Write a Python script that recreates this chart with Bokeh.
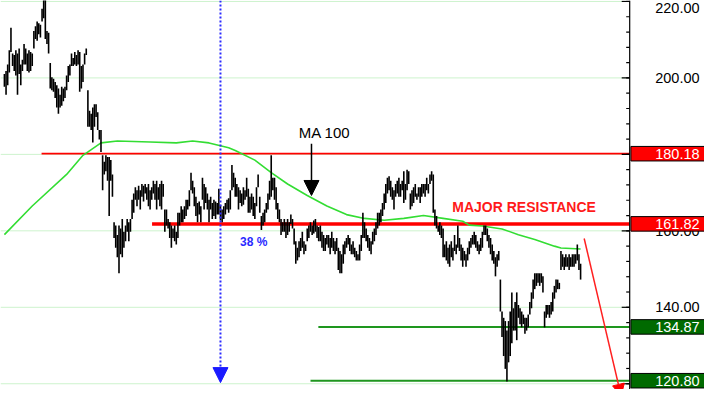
from bokeh.plotting import figure
from bokeh.models import Range1d, Label, Arrow, NormalHead
from bokeh.core.properties import value
from bokeh.embed import file_html
from bokeh.resources import INLINE

# ---- data ----
high = [
    201.0, 201.8, 203.5, 207.25, 213.1, 206.4, 206.0, 207.25, 206.4, 207.7,
    203.5, 204.75, 208.9, 207.7, 206.4, 207.25, 206.8, 206.4, 212.25, 213.5,
    214.75, 214.3, 213.9, 218.1, 220.5, 220.5, 212.25, 211.8, 203.9, 200.2,
    199.75, 198.9, 198.1, 197.25, 195.6, 197.7, 197.25, 197.7, 200.6, 203.1,
    203.5, 206.4, 205.2, 206.8, 206.0, 207.25, 206.8, 203.1, 203.5, 206.4,
    207.7, 196.8, 191.4, 190.6, 192.25, 193.1, 193.1, 191.0, 186.4, 186.4,
    179.75, 178.1, 179.75, 179.3, 179.3, 178.5, 174.75, 162.25, 161.4, 158.9,
    161.4, 160.6, 163.1, 159.75, 161.4, 163.1, 162.25, 163.1, 168.1, 169.75,
    171.4, 170.6, 171.8, 170.6, 172.25, 171.8, 172.25, 171.4, 172.25, 170.6,
    171.4, 173.1, 172.25, 173.1, 171.4, 172.25, 173.1, 172.25, 165.6, 165.6,
    163.1, 162.25, 161.4, 160.6, 161.4, 159.75, 164.75, 164.75, 166.4, 165.6,
    166.4, 168.1, 168.1, 170.6, 175.2, 173.1,
    171.4, 168.9, 167.25, 167.7, 166.4, 173.9, 172.25, 171.4, 169.75, 168.1,
    168.9, 167.25, 168.1, 167.7, 167.25, 171.0, 166.8, 165.6, 166.4, 167.25,
    168.1, 168.5, 170.6, 177.25, 175.2, 173.9, 172.25, 171.4, 170.6, 169.75,
    171.4, 170.6, 173.9, 171.0, 168.9, 169.75, 168.9, 167.25, 171.4, 174.75,
    168.9, 163.9, 164.75, 165.6, 167.25, 169.75, 173.1, 179.75, 173.9, 173.9,
    171.4, 167.25, 165.6, 163.1, 162.25, 163.1, 162.25, 163.1, 162.25, 164.3,
    163.1, 160.6, 157.25, 155.6, 157.25, 158.1, 159.75, 157.25, 156.4, 160.6,
    161.4, 162.25, 161.4, 162.7, 163.1, 161.4, 161.0, 161.4, 159.75, 158.9,
    158.1, 158.9, 158.9, 158.1, 159.75, 158.1, 157.25, 158.1, 155.6, 154.75,
    153.9, 156.4, 157.25, 158.1, 158.9, 158.1, 156.4, 157.25, 155.6, 154.75,
    153.9, 156.4, 158.9, 164.75, 162.25, 160.6, 158.9, 158.1, 157.25, 159.75,
    160.6, 162.25, 164.75, 164.75, 165.6, 167.25, 169.75, 172.25, 173.9, 174.3,
    173.1, 171.4, 170.6,
    172.25, 173.1, 173.9, 172.25, 173.1, 175.6, 172.25, 176.0, 175.6, 169.75,
    170.6, 171.4, 172.25, 169.75, 171.4, 171.4, 172.25, 172.25, 172.25, 173.9,
    172.25, 174.75, 175.6, 174.75, 165.6, 163.9, 161.4, 162.25, 161.4, 160.6,
    156.4, 157.25, 155.6, 156.4, 157.25, 155.6, 158.9, 156.4, 161.4, 158.1,
    156.4, 155.6, 154.75, 153.9, 155.6, 157.25, 158.1, 158.9, 159.75, 158.9,
    157.25, 156.4, 158.1, 159.75, 161.4, 161.4, 160.6, 158.9, 158.1, 156.4,
    154.75, 153.1, 153.9, 154.75, 147.25, 138.9, 137.25, 136.4, 133.9, 136.4,
    138.9, 143.9, 139.75, 141.4, 143.9, 140.6, 139.75, 138.9, 138.1, 137.25,
    137.25, 138.1, 141.4, 143.9, 147.25, 148.9, 148.9, 148.9, 148.9, 148.9,
    148.1, 138.9, 140.6, 140.6, 140.6, 141.4, 143.9, 145.6, 147.25, 147.25,
    146.4, 154.75, 153.9, 153.1, 153.9, 153.1, 153.9, 153.1, 153.9, 153.9,
    153.9, 156.4, 153.9, 151.4,
]
low = [
    197.7, 195.6, 198.1, 201.4, 206.8, 203.1, 201.8, 200.6, 195.6, 201.0,
    198.1, 201.8, 203.5, 203.5, 201.8, 201.4, 201.8, 203.1, 207.7, 210.2,
    209.75, 211.4, 210.6, 214.75, 215.6, 210.2, 208.9, 206.4, 197.25, 196.8,
    196.4, 194.75, 192.25, 190.6, 192.25, 192.7, 193.9, 194.75, 196.8, 198.9,
    200.6, 203.1, 203.1, 203.5, 203.1, 203.5, 196.4, 197.25, 198.9, 203.5,
    206.0, 187.25, 187.25, 186.4, 183.1, 187.25, 189.75, 186.4, 183.9, 180.6,
    170.6, 174.75, 175.6, 173.1, 163.9, 173.1, 168.9, 158.1, 155.6, 153.1,
    148.9, 153.9, 153.1, 155.6, 157.25, 159.75, 157.25, 159.75, 163.1, 164.75,
    168.1, 166.4, 168.1, 165.6, 168.9, 167.7, 169.75, 168.1, 166.4, 165.6,
    168.1, 169.75, 168.1, 165.6, 168.1, 166.4, 165.6, 168.9, 159.75, 161.4,
    160.6, 158.1, 155.6, 158.1, 157.25, 156.4, 158.1, 161.4, 162.25, 162.25,
    163.1, 163.9, 165.6, 166.4, 170.6, 169.75,
    166.4, 163.9, 162.25, 164.3, 162.25, 168.1, 165.6, 167.25, 165.6, 162.25,
    165.6, 163.1, 163.9, 163.1, 164.3, 164.3, 162.7, 162.25, 163.1, 164.3,
    165.6, 164.75, 165.6, 170.6, 171.4, 168.9, 168.9, 165.6, 167.25, 166.4,
    166.8, 168.1, 168.9, 164.75, 164.75, 165.6, 163.9, 163.1, 166.4, 171.4,
    164.75, 160.2, 161.4, 162.25, 164.75, 165.6, 168.1, 168.9, 170.6, 168.1,
    165.6, 163.1, 162.25, 158.9, 159.75, 159.75, 158.1, 158.9, 159.75, 161.8,
    160.6, 156.4, 151.4, 152.25, 153.1, 154.75, 155.6, 153.9, 154.75, 157.25,
    158.1, 159.75, 158.9, 159.3, 159.75, 158.1, 157.25, 157.25, 155.6, 154.75,
    154.75, 156.4, 155.6, 153.9, 155.6, 154.75, 153.9, 154.75, 149.75, 148.9,
    148.9, 151.4, 153.9, 155.6, 156.4, 154.75, 153.9, 153.9, 153.1, 152.25,
    152.25, 152.25, 154.75, 158.1, 158.1, 157.25, 155.6, 154.75, 153.9, 156.4,
    157.25, 158.9, 160.6, 161.4, 162.25, 163.9, 165.6, 167.25, 169.75, 170.6,
    168.9, 168.1, 165.6,
    168.9, 169.75, 168.9, 168.9, 170.6, 167.25, 168.1, 170.6, 172.25, 165.6,
    166.4, 167.25, 168.9, 168.1, 168.9, 167.25, 168.9, 169.75, 168.9, 170.6,
    169.75, 172.25, 173.1, 164.75, 161.4, 160.6, 159.75, 158.9, 158.1, 153.1,
    153.1, 152.25, 151.4, 150.6, 153.1, 152.25, 154.75, 153.9, 155.6, 154.75,
    152.25, 150.6, 152.25, 150.6, 152.25, 153.9, 155.6, 156.4, 156.4, 155.6,
    154.75, 153.9, 154.75, 155.6, 158.9, 158.9, 157.25, 155.6, 153.9, 152.25,
    151.4, 148.1, 150.6, 152.25, 138.9, 132.25, 127.25, 123.9, 120.6, 125.6,
    127.25, 130.6, 133.9, 133.9, 131.4, 137.25, 135.6, 134.75, 135.6, 133.1,
    133.9, 134.75, 138.1, 139.75, 142.25, 144.75, 145.6, 146.4, 145.6, 146.4,
    143.9, 134.75, 137.25, 138.1, 137.25, 138.1, 138.9, 142.25, 143.9, 144.75,
    144.75, 149.75, 150.6, 149.75, 150.6, 150.6, 149.75, 150.6, 150.6, 150.6,
    151.4, 152.25, 149.75, 147.25,
]
bar_idx = list(range(len(high)))

# MA 100 read at selected bars
ma_idx = [0, 17, 38, 48, 59, 69, 89, 105, 115, 125, 137, 141, 153, 163, 173, 185,
          197, 209, 220, 232, 244, 256, 268, 280, 284, 292, 304, 314, 324, 336, 340, 352]
ma_val = [159.0, 166.5, 174.75, 179.75, 183.0, 183.5, 183.25, 183.0, 183.5, 183.0,
          181.75, 181.0, 178.5, 175.25, 172.25, 169.25, 166.5, 164.25, 163.25, 162.75,
          163.25, 164.0, 163.25, 162.5, 161.5, 161.25, 160.5, 159.0, 157.75, 156.0,
          155.5, 155.25]

levels = [180.18, 161.82, 134.87, 120.80]
y_ticks = [120, 140, 160, 180, 200, 220]
y_minor_ticks = list(range(120, 221, 4))
# tick labels that are not hidden under the value boxes
label_ticks = [140, 160, 200, 220]

# ---- styles / positions ----
level_line_colors = ["#ff0000", "#ff0000", "#1e961e", "#1e961e"]
level_box_colors = ["#ff0000", "#ff0000", "#006a00", "#006a00"]
level_widths = [1.8, 3.5, 2, 2]
level_start = [22.7, 90.2, 191.8, 187.0]
label_y_offsets = [0, 0, 0, 7]
X0, X1 = -2.39, 427.7      # whole picture width in bar units
AX = 382.0                 # price-scale line
TXT_X = 424.7              # right edge of price texts
PX = (X1 - X0) / 704.0     # one screen pixel in bar units
BOX_HALF = 1.9             # half height of value boxes (price units)
FONT = "Liberation Sans"

p = figure(width=704, height=389, output_backend="svg", toolbar_location=None,
           x_range=Range1d(X0, X1), y_range=Range1d(118.5, 220.25),
           x_axis_location=None, y_axis_location=None,
           min_border_left=0, min_border_top=0, min_border_bottom=0, min_border_right=0)
p.outline_line_color = None
p.background_fill_color = "white"
p.grid.visible = False

# grid lines (pale green) up to the price scale
p.segment(x0=[X0] * len(y_ticks), y0=y_ticks, x1=[AX] * len(y_ticks), y1=y_ticks,
          line_color="#cdf3cd", line_width=1)

# level lines
for lv, st, c, w in zip(levels, level_start, level_line_colors, level_widths):
    p.segment(x0=[st], y0=[lv], x1=[AX], y1=[lv], line_color=c, line_width=w)

# MA
p.line(ma_idx, ma_val, line_color="#33dd33", line_width=1.6)

# price bars
p.segment(x0=bar_idx, y0=low, x1=bar_idx, y1=high, line_color="black", line_width=1.6)

# price scale: line, ticks (pointing into the chart) and labels
p.segment(x0=[AX], y0=[118.5], x1=[AX], y1=[220.25], line_color="black", line_width=1.2)
p.segment(x0=[AX - 8 * PX] * len(y_ticks), y0=y_ticks, x1=[AX] * len(y_ticks), y1=y_ticks,
          line_color="black", line_width=1.2)
p.segment(x0=[AX - 3.5 * PX] * len(y_minor_ticks), y0=y_minor_ticks,
          x1=[AX] * len(y_minor_ticks), y1=y_minor_ticks, line_color="black", line_width=1.2)
p.text(x=[TXT_X] * len(label_ticks), y=label_ticks, text=[f"{v:.2f}" for v in label_ticks],
       y_offset=label_y_offsets, text_align="right", text_baseline="middle",
       text_font=value(FONT), text_font_size="14.5px", text_color="black")

# value boxes on the price scale
p.quad(left=[AX + 1.2 * PX] * len(levels), right=[X1 + 5] * len(levels),
       bottom=[lv - BOX_HALF for lv in levels], top=[lv + BOX_HALF for lv in levels],
       fill_color=level_box_colors, line_color="black", line_width=1)
p.text(x=[TXT_X] * len(levels), y=levels, text=[f"{lv:.2f}" for lv in levels],
       text_align="right", text_baseline="middle", text_font=value(FONT),
       text_font_size="14.5px", text_color="white")

# blue dotted arrow
p.add_layout(Arrow(end=NormalHead(size=15, fill_color="#1a1aff", line_color="#1a1aff"),
                   x_start=132, y_start=220.25, x_end=132, y_end=120.3,
                   line_color="#2a2aff", line_width=2, line_dash="2 2"))
# MA 100 arrow
p.add_layout(Arrow(end=NormalHead(size=15, fill_color="black", line_color="black"),
                   x_start=187.6, y_start=182.75, x_end=187.6, y_end=169.25,
                   line_color="black", line_width=1.5))
# red down arrow
p.add_layout(Arrow(end=NormalHead(size=12, fill_color="red", line_color="red"),
                   x_start=354.2, y_start=158.0, x_end=376.8, y_end=116.75,
                   line_color="#ff2020", line_width=1.5))

p.add_layout(Label(x=179.8, y=185.75, text="MA 100", text_font=FONT, text_font_size="15px",
                   text_color="black", text_baseline="middle"))
p.add_layout(Label(x=144.0, y=157.0, text="38 %", text_font=FONT, text_font_size="12px",
                   text_font_style="bold", text_color="#2a2aff", text_baseline="middle"))
p.add_layout(Label(x=273.6, y=166.25, text="MAJOR RESISTANCE", text_font=FONT,
                   text_font_size="14px", text_font_style="bold", text_color="#ff1a1a",
                   text_baseline="middle"))

open("out.html", "w").write(file_html(p, INLINE))
